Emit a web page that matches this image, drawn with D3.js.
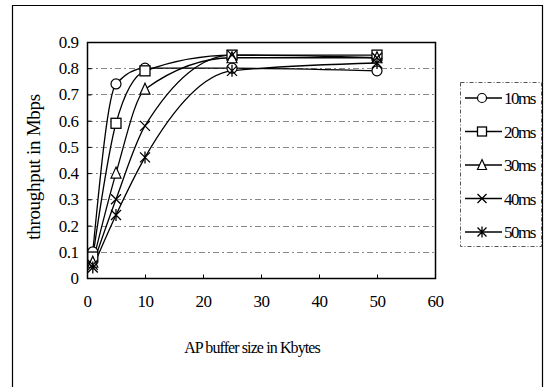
<!DOCTYPE html>
<html>
<head>
<meta charset="utf-8">
<script src="https://cdn.jsdelivr.net/npm/d3@7"></script>
<style>
  body { margin: 0; background: #fff; }
  text { font-family: "Liberation Serif", "DejaVu Serif", serif; fill: #000; }
</style>
</head>
<body>
<svg id="chart" width="544" height="387"></svg>
<script>
// buffer sizes (Kbytes)
var bufferSizes = [1, 5, 10, 25, 50];
var seriesNames = ['10ms', '20ms', '30ms', '40ms', '50ms'];
var tp10 = [0.10, 0.74, 0.80, 0.80, 0.79];
var tp20 = [0.08, 0.59, 0.79, 0.85, 0.85];
var tp30 = [0.06, 0.40, 0.72, 0.84, 0.84];
var tp40 = [0.05, 0.30, 0.58, 0.85, 0.84];
var tp50 = [0.04, 0.24, 0.46, 0.79, 0.82];
var markers = ['circle', 'square', 'triangle', 'x', 'star'];
var xTicks = [0, 10, 20, 30, 40, 50, 60];
var yTicks = [0, 0.1, 0.2, 0.3, 0.4, 0.5, 0.6, 0.7, 0.8, 0.9];

var allSeries = [tp10, tp20, tp30, tp40, tp50].map(function(vals, i) {
  return {
    name: seriesNames[i],
    marker: markers[i],
    points: vals.map(function(v, j) { return { x: bufferSizes[j], y: v }; })
  };
});

var svg = d3.select('#chart');
var plot = { left: 87, top: 42, right: 435, bottom: 278 };

var x = d3.scaleLinear().domain([0, 60]).range([plot.left, plot.right]);
var y = d3.scaleLinear().domain([0, 0.9]).range([plot.bottom, plot.top]);

// outer frame
svg.append('path')
  .attr('d', 'M12.5,390 L12.5,5.5 L542.5,5.5 L542.5,390')
  .attr('fill', 'none')
  .attr('stroke', '#000')
  .attr('stroke-width', 1.2);

// gridlines
svg.append('g')
  .selectAll('line')
  .data(yTicks.slice(1, -1))
  .enter()
  .append('line')
  .attr('x1', plot.left)
  .attr('x2', plot.right)
  .attr('y1', d => Math.round(y(d)) + 0.5)
  .attr('y2', d => Math.round(y(d)) + 0.5)
  .attr('stroke', '#888')
  .attr('stroke-dasharray', '6,3,2,3');

// plot box
svg.append('rect')
  .attr('x', plot.left + 0.5)
  .attr('y', plot.top + 0.5)
  .attr('width', plot.right - plot.left)
  .attr('height', plot.bottom - plot.top)
  .attr('fill', 'none')
  .attr('stroke', '#000')
  .attr('stroke-width', 1.5);

// axes
var xAxis = svg.append('g')
  .attr('transform', 'translate(0,' + (plot.bottom + 0.5) + ')')
  .call(d3.axisBottom(x).tickValues(xTicks).tickSize(-4).tickPadding(16).tickFormat(d3.format('d')));
var yAxis = svg.append('g')
  .attr('transform', 'translate(' + (plot.left + 0.5) + ',0)')
  .call(d3.axisLeft(y).tickValues(yTicks).tickSize(-4).tickPadding(9)
    .tickFormat(d => d === 0 ? '0' : d3.format('.1f')(d)));
[xAxis, yAxis].forEach(function(a) {
  a.select('.domain').remove();
  a.selectAll('text').style('font-size', '17px').attr('fill', '#000')
    .style('letter-spacing', '-0.5px')
    .style('font-family', '"Liberation Serif", serif');
});

// axis titles
svg.append('text')
  .attr('x', 252)
  .attr('y', 353)
  .attr('text-anchor', 'middle')
  .style('font-size', '16px')
  .style('letter-spacing', '-0.9px')
  .text('AP buffer size in Kbytes');
svg.append('text')
  .attr('transform', 'translate(40,167) rotate(-90)')
  .attr('text-anchor', 'middle')
  .style('font-size', '19px')
  .style('letter-spacing', '-0.3px')
  .text('throughput in Mbps');

// lines
var line = d3.line()
  .x(d => x(d.x))
  .y(d => y(d.y))
  .curve(d3.curveMonotoneX);

svg.append('g')
  .selectAll('path')
  .data(allSeries)
  .enter()
  .append('path')
  .attr('d', d => line(d.points))
  .attr('fill', 'none')
  .attr('stroke', '#000')
  .attr('stroke-width', 1.3);

function drawMarker(g, type, s) {
  if (type === 'circle') {
    g.append('circle').attr('r', s).attr('fill', '#fff').attr('stroke', '#000').attr('stroke-width', 1.2);
  } else if (type === 'square') {
    g.append('rect').attr('x', -s).attr('y', -s).attr('width', 2 * s).attr('height', 2 * s)
      .attr('fill', '#fff').attr('stroke', '#000').attr('stroke-width', 1.3);
  } else if (type === 'triangle') {
    g.append('path').attr('d', 'M0,' + (-s * 1.2) + 'L' + s + ',' + s + 'L' + (-s) + ',' + s + 'Z')
      .attr('fill', '#fff').attr('stroke', '#000').attr('stroke-width', 1.2);
  } else if (type === 'x') {
    g.append('path').attr('d', 'M' + (-s) + ',' + (-s) + 'L' + s + ',' + s + 'M' + s + ',' + (-s) + 'L' + (-s) + ',' + s)
      .attr('stroke', '#000').attr('stroke-width', 1.3);
  } else {
    g.append('path').attr('d', 'M' + (-s) + ',' + (-s) + 'L' + s + ',' + s + 'M' + s + ',' + (-s) + 'L' + (-s) + ',' + s +
      'M0,' + (-s * 1.2) + 'L0,' + (s * 1.2))
      .attr('stroke', '#000').attr('stroke-width', 1.3);
  }
}

// markers
allSeries.forEach(function(s) {
  s.points.forEach(function(p) {
    var g = svg.append('g').attr('transform', 'translate(' + x(p.x) + ',' + y(p.y) + ')');
    drawMarker(g, s.marker, 5);
  });
});

// legend
var legend = svg.append('g');
legend.append('rect')
  .attr('x', 460.5).attr('y', 82.5).attr('width', 81).attr('height', 164)
  .attr('fill', '#fff')
  .attr('stroke', '#555')
  .attr('stroke-dasharray', '4,2,1,2');
seriesNames.forEach(function(name, i) {
  var ly = 98 + i * 33.5;
  var g = legend.append('g').attr('transform', 'translate(0,' + ly + ')');
  g.append('line').attr('x1', 465).attr('x2', 502).attr('y1', 0).attr('y2', 0)
    .attr('stroke', '#000').attr('stroke-width', 1.3);
  drawMarker(g.append('g').attr('transform', 'translate(482,0)'), markers[i], 4.5);
  g.append('text').attr('x', 504).attr('y', 6)
    .style('font-size', '17px')
    .style('letter-spacing', '-1.5px')
    .text(name);
});
</script>
</body>
</html>
